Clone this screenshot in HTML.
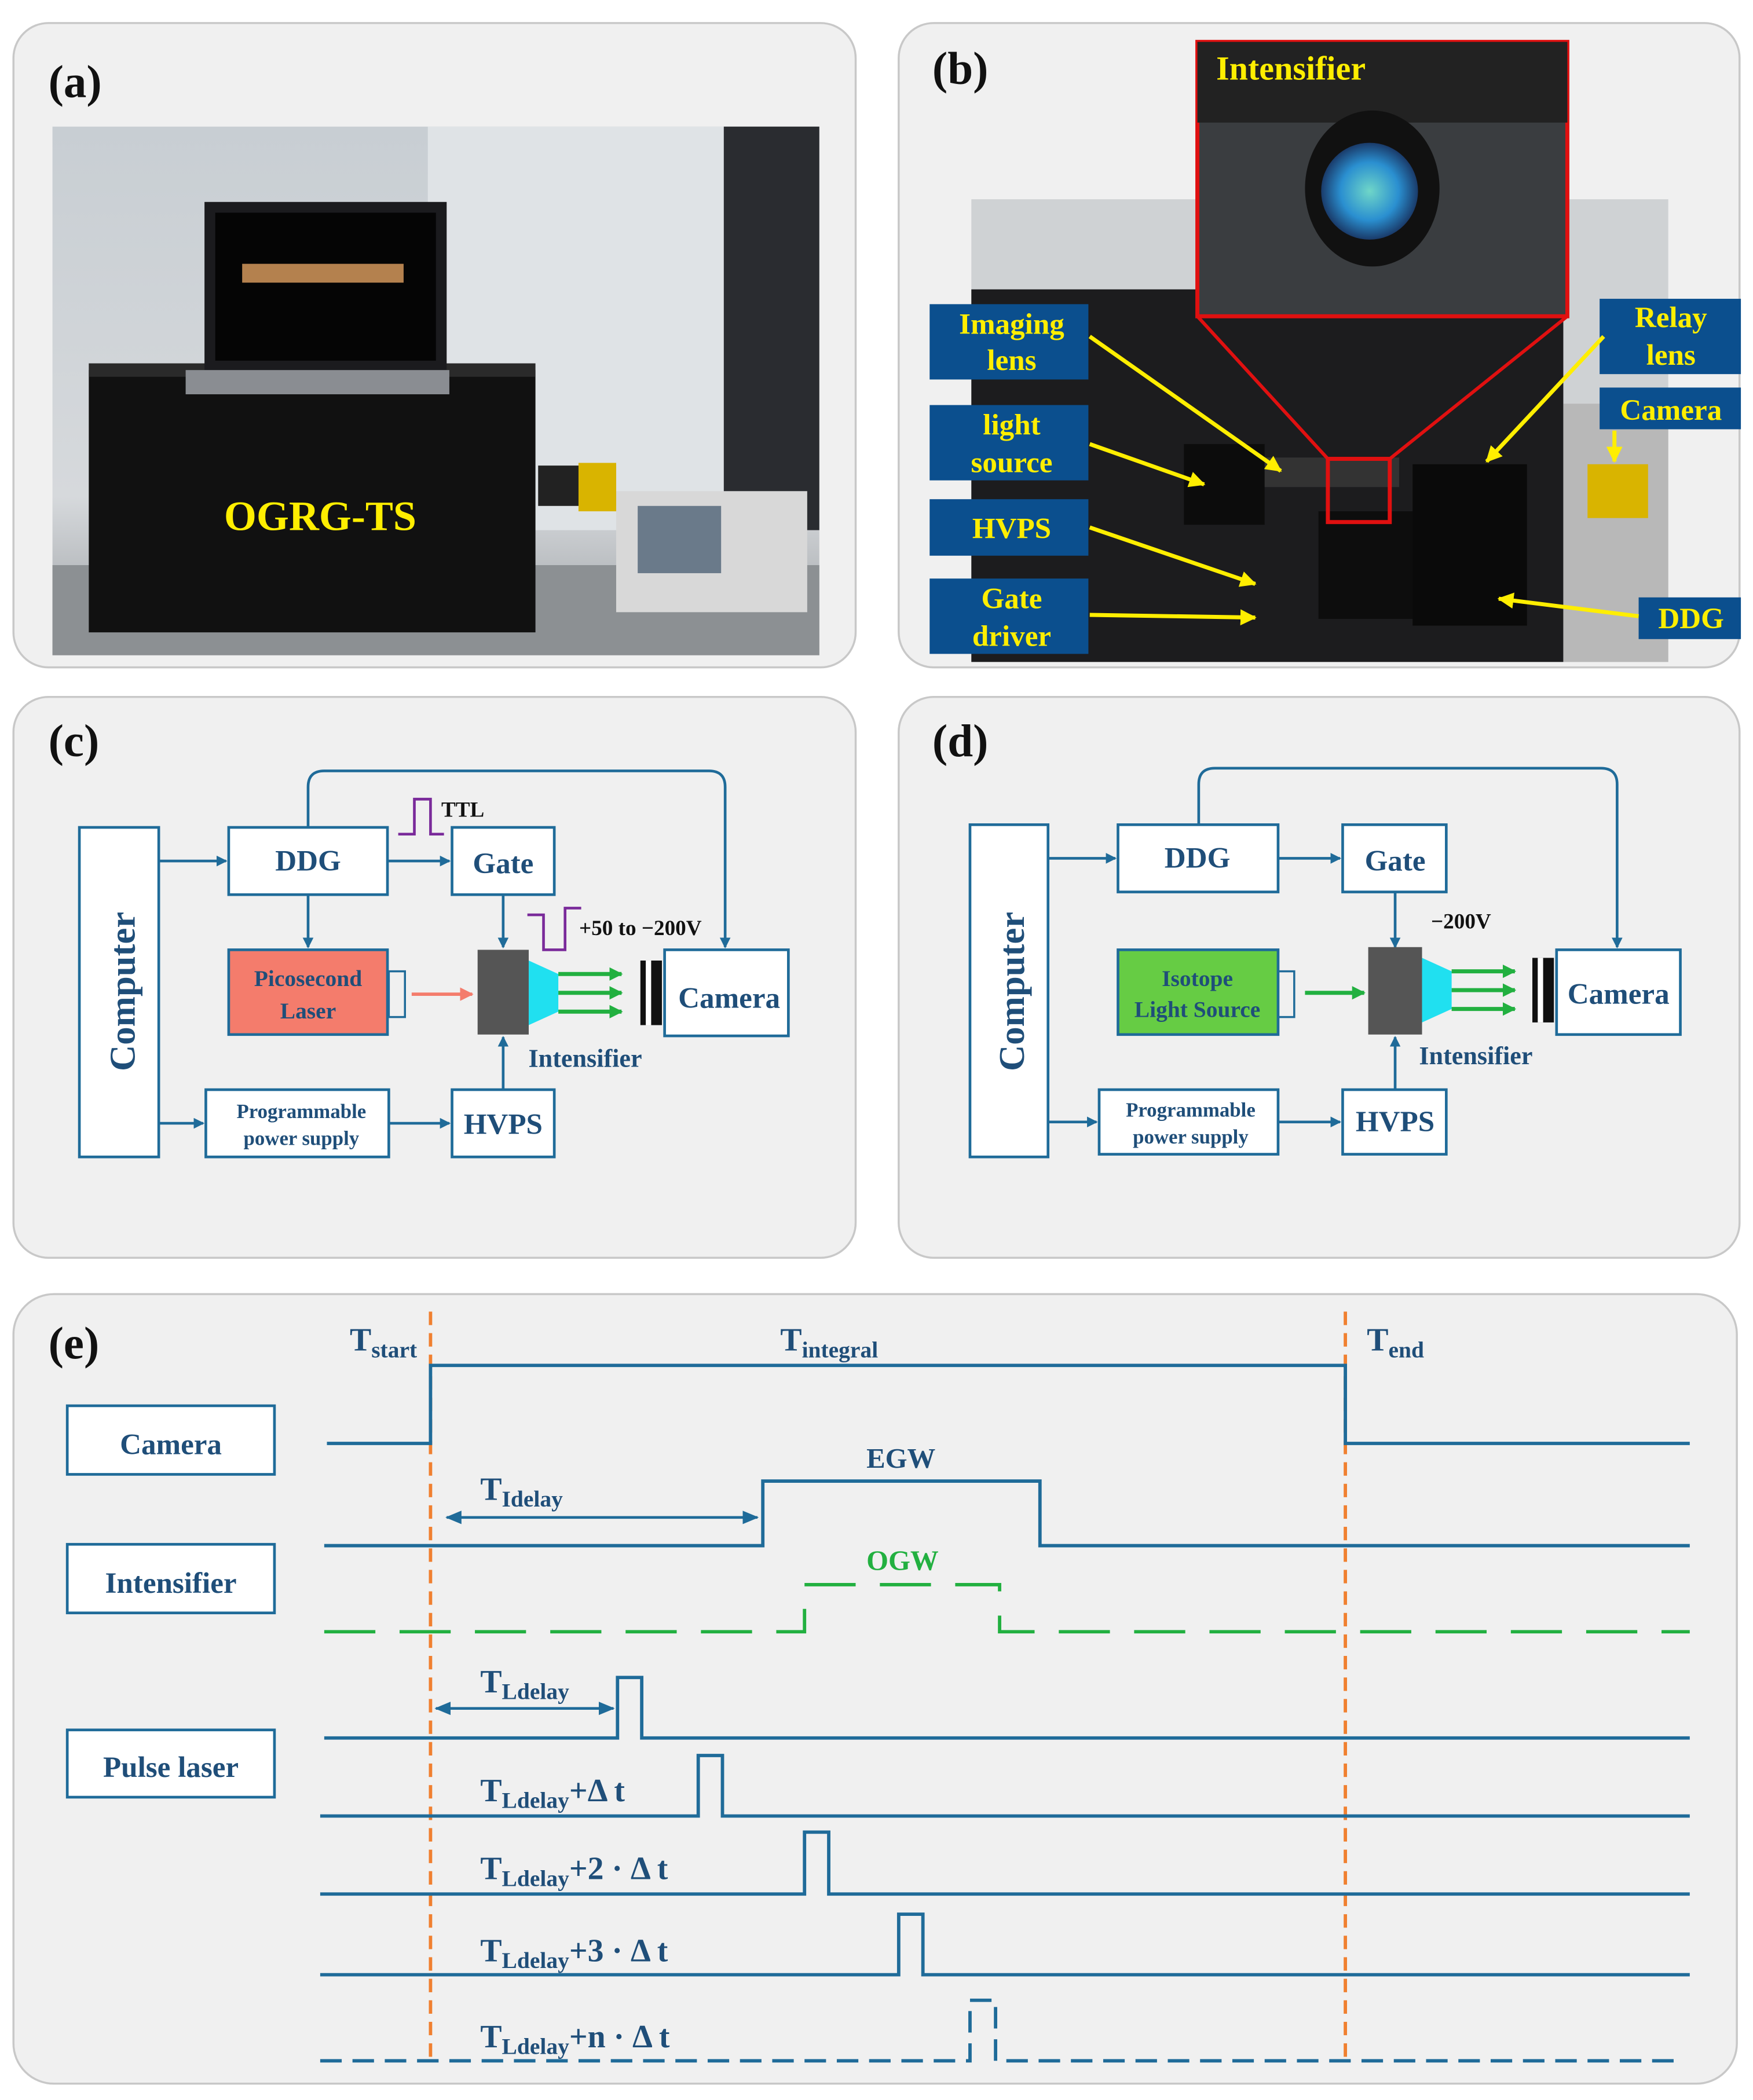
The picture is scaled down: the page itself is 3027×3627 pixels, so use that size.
<!DOCTYPE html>
<html><head><meta charset="utf-8"><style>html,body{margin:0;padding:0;background:#fff}svg{display:block}</style></head><body>
<svg xmlns="http://www.w3.org/2000/svg" width="3027" height="3627" viewBox="0 0 1303 1561" font-family="Liberation Serif, serif">
<defs>
<marker id="ab" markerWidth="8" markerHeight="8" refX="7" refY="4" orient="auto" markerUnits="userSpaceOnUse"><path d="M0,0 L8,4 L0,8 Z" fill="#1f6b99"/></marker>
<marker id="ab2" markerWidth="12" markerHeight="10" refX="11" refY="5" orient="auto-start-reverse" markerUnits="userSpaceOnUse"><path d="M0,0 L12,5 L0,10 Z" fill="#1f6b99"/></marker>
<marker id="ag" markerWidth="10" markerHeight="10" refX="9" refY="5" orient="auto" markerUnits="userSpaceOnUse"><path d="M0,0 L10,5 L0,10 Z" fill="#22b040"/></marker>
<marker id="ar" markerWidth="10" markerHeight="10" refX="9" refY="5" orient="auto" markerUnits="userSpaceOnUse"><path d="M0,0 L10,5 L0,10 Z" fill="#f47c6c"/></marker>
<marker id="ay" markerWidth="12" markerHeight="12" refX="11" refY="6" orient="auto" markerUnits="userSpaceOnUse"><path d="M0,0 L12,6 L0,12 Z" fill="#ffee00"/></marker>
<linearGradient id="wall" x1="0" y1="0" x2="0" y2="1"><stop offset="0" stop-color="#c8ced3"/><stop offset="0.7" stop-color="#d6d9dc"/><stop offset="1" stop-color="#9a9ea2"/></linearGradient>
<radialGradient id="lens"><stop offset="0" stop-color="#6fd6c8"/><stop offset="0.6" stop-color="#2a8fd0"/><stop offset="1" stop-color="#1a3b6a"/></radialGradient>
</defs>
<g fill="#f0f0f0" stroke="#c8c8c8" stroke-width="1.5">
<rect x="10" y="17" width="626" height="479" rx="26"/>
<rect x="668" y="17" width="625" height="479" rx="26"/>
<rect x="10" y="518" width="626" height="417" rx="26"/>
<rect x="668" y="518" width="625" height="417" rx="26"/>
<rect x="10" y="962" width="1281" height="587" rx="30"/>
</g>
<g font-weight="bold" font-size="34" fill="#111">
<text x="36" y="72">(a)</text><text x="693" y="62">(b)</text>
<text x="36" y="562">(c)</text><text x="693" y="562">(d)</text><text x="36" y="1010">(e)</text>
</g>
<!-- (a) photo -->
<rect x="39" y="94" width="570" height="393" fill="url(#wall)"/>
<rect x="318" y="94" width="220" height="300" fill="#dfe3e6"/>
<rect x="538" y="94" width="71" height="300" fill="#2a2c30"/>
<rect x="39" y="420" width="570" height="67" fill="#8c9093"/>
<rect x="66" y="275" width="332" height="195" fill="#111"/>
<rect x="66" y="270" width="332" height="10" fill="#2a2a2a"/>
<rect x="152" y="150" width="180" height="125" fill="#1b1b1e"/>
<rect x="160" y="158" width="164" height="110" fill="#050505"/>
<rect x="180" y="196" width="120" height="14" fill="#e0a060" opacity="0.8"/>
<rect x="138" y="275" width="196" height="18" fill="#8a8d92"/>
<rect x="400" y="346" width="58" height="30" fill="#222"/><rect x="430" y="344" width="28" height="36" fill="#d9b400"/>
<rect x="458" y="365" width="142" height="90" fill="#d8d8d8"/><rect x="474" y="376" width="62" height="50" fill="#6a7a8a"/>
<text x="238" y="394" font-size="31" font-weight="bold" fill="#ffee00" text-anchor="middle">OGRG-TS</text>
<!-- (b) photo -->
<rect x="722" y="148" width="518" height="344" fill="#cfd2d4"/>
<rect x="722" y="215" width="440" height="277" fill="#1c1c1e"/>
<rect x="1162" y="300" width="78" height="192" fill="#b8b8b8"/>
<rect x="880" y="330" width="60" height="60" fill="#0c0c0c"/>
<rect x="940" y="340" width="100" height="22" fill="#333"/>
<rect x="1050" y="345" width="85" height="120" fill="#0a0a0a"/>
<rect x="1180" y="345" width="45" height="40" fill="#d9b400"/>
<rect x="980" y="380" width="70" height="80" fill="#0d0d0d"/>
<rect x="890" y="31" width="275" height="204" fill="#3a3d40" stroke="#e01010" stroke-width="3"/>
<rect x="890" y="31" width="275" height="60" fill="#222"/>
<ellipse cx="1020" cy="140" rx="50" ry="58" fill="#111"/>
<circle cx="1018" cy="142" r="36" fill="url(#lens)"/>
<rect x="987" y="341" width="46" height="47" fill="none" stroke="#e01010" stroke-width="3"/>
<line x1="890" y1="235" x2="987" y2="341" stroke="#e01010" stroke-width="2.5"/>
<line x1="1165" y1="235" x2="1033" y2="341" stroke="#e01010" stroke-width="2.5"/>
<text x="904" y="59" font-size="25" font-weight="bold" fill="#ffee00">Intensifier</text>
<g fill="#0b4f8e"><rect x="691" y="226" width="118" height="56"/><rect x="691" y="301" width="118" height="56"/><rect x="691" y="371" width="118" height="42"/><rect x="691" y="430" width="118" height="56"/><rect x="1189" y="222" width="105" height="56"/><rect x="1189" y="288" width="105" height="31"/><rect x="1218" y="444" width="76" height="31"/></g>
<g font-size="22" font-weight="bold" fill="#ffee00" text-anchor="middle">
<text x="752" y="248">Imaging</text><text x="752" y="275">lens</text>
<text x="752" y="323">light</text><text x="752" y="351">source</text>
<text x="752" y="400">HVPS</text>
<text x="752" y="452">Gate</text><text x="752" y="480">driver</text>
<text x="1242" y="243">Relay</text><text x="1242" y="271">lens</text>
<text x="1242" y="312">Camera</text><text x="1257" y="467">DDG</text>
</g>
<g stroke="#ffee00" stroke-width="3" marker-end="url(#ay)">
<line x1="810" y1="250" x2="952" y2="350"/><line x1="810" y1="330" x2="895" y2="360"/>
<line x1="810" y1="392" x2="933" y2="434"/><line x1="810" y1="457" x2="933" y2="459"/>
<line x1="1192" y1="250" x2="1105" y2="343"/><line x1="1200" y1="320" x2="1200" y2="343"/>
<line x1="1218" y1="458" x2="1114" y2="445"/>
</g>
<!-- (c) -->
<g fill="#fff" stroke="#1f6b99" stroke-width="2">
<rect x="59" y="615" width="59" height="245"/><rect x="170" y="615" width="118" height="50"/><rect x="336" y="615" width="76" height="50"/>
<rect x="170" y="706" width="118" height="63" fill="#f47c6c"/><rect x="494" y="706" width="92" height="64"/>
<rect x="153" y="810" width="136" height="50"/><rect x="336" y="810" width="76" height="50"/>
<rect x="289" y="722" width="12" height="34" fill="none" stroke-width="1.5"/>
<rect x="721" y="613" width="58" height="247"/><rect x="831" y="613" width="119" height="50"/><rect x="998" y="613" width="77" height="50"/>
<rect x="831" y="706" width="119" height="63" fill="#66cc44"/><rect x="1157" y="706" width="92" height="63"/>
<rect x="817" y="810" width="133" height="48"/><rect x="998" y="810" width="77" height="48"/>
<rect x="950" y="722" width="12" height="34" fill="none" stroke-width="1.5"/>
</g>
<g fill="#1f4e79" font-weight="bold" text-anchor="middle">
<text transform="translate(100,737) rotate(-90)" font-size="27">Computer</text>
<text x="229" y="647" font-size="22">DDG</text><text x="374" y="649" font-size="22">Gate</text>
<text x="229" y="733" font-size="17">Picosecond</text><text x="229" y="757" font-size="17">Laser</text>
<text x="542" y="749" font-size="22">Camera</text>
<text x="224" y="831" font-size="15">Programmable</text><text x="224" y="851" font-size="15">power supply</text>
<text x="374" y="843" font-size="22">HVPS</text>
<text x="435" y="793" font-size="19">Intensifier</text>
<text x="476" y="695" font-size="16" fill="#111">+50 to −200V</text>
<text x="344" y="607" font-size="16" fill="#111">TTL</text>
<text transform="translate(761,737) rotate(-90)" font-size="27">Computer</text>
<text x="890" y="645" font-size="22">DDG</text><text x="1037" y="647" font-size="22">Gate</text>
<text x="890" y="733" font-size="17">Isotope</text><text x="890" y="756" font-size="17">Light Source</text>
<text x="1203" y="746" font-size="22">Camera</text>
<text x="885" y="830" font-size="15">Programmable</text><text x="885" y="850" font-size="15">power supply</text>
<text x="1037" y="841" font-size="22">HVPS</text>
<text x="1097" y="791" font-size="19">Intensifier</text>
<text x="1086" y="690" font-size="16" fill="#111">−200V</text>
</g>
<g stroke="#1f6b99" stroke-width="2" fill="none" marker-end="url(#ab)">
<line x1="118" y1="640" x2="168" y2="640"/><line x1="288" y1="640" x2="334" y2="640"/>
<line x1="229" y1="665" x2="229" y2="704"/><line x1="374" y1="665" x2="374" y2="704"/>
<line x1="118" y1="835" x2="151" y2="835"/><line x1="289" y1="835" x2="334" y2="835"/>
<line x1="374" y1="810" x2="374" y2="771"/>
<path d="M229,615 V585 Q229,573 241,573 H527 Q539,573 539,585 V704"/>
<line x1="779" y1="638" x2="829" y2="638"/><line x1="950" y1="638" x2="996" y2="638"/>
<line x1="1037" y1="663" x2="1037" y2="704"/>
<line x1="779" y1="834" x2="815" y2="834"/><line x1="950" y1="834" x2="996" y2="834"/>
<line x1="1037" y1="810" x2="1037" y2="771"/>
<path d="M891,613 V583 Q891,571 903,571 H1190 Q1202,571 1202,583 V704"/>
</g>
<polyline points="296,620 308,620 308,594 320,594 320,620 330,620" fill="none" stroke="#7a2a9a" stroke-width="2"/>
<polyline points="392,680 404,680 404,706 420,706 420,675 432,675" fill="none" stroke="#7a2a9a" stroke-width="2"/>
<rect x="355" y="706" width="38" height="63" fill="#555"/><polygon points="393,714 415,724 415,752 393,762" fill="#20e0f0"/>
<rect x="1017" y="704" width="40" height="65" fill="#555"/><polygon points="1057,712 1079,722 1079,750 1057,760" fill="#20e0f0"/>
<rect x="476" y="714" width="16" height="48" fill="#111"/><rect x="480" y="714" width="4" height="48" fill="#fff"/>
<rect x="1139" y="712" width="16" height="48" fill="#111"/><rect x="1143" y="712" width="4" height="48" fill="#fff"/>
<g stroke="#22b040" stroke-width="3" marker-end="url(#ag)">
<line x1="415" y1="724" x2="462" y2="724"/><line x1="415" y1="738" x2="462" y2="738"/><line x1="415" y1="752" x2="462" y2="752"/>
<line x1="1079" y1="722" x2="1126" y2="722"/><line x1="1079" y1="736" x2="1126" y2="736"/><line x1="1079" y1="750" x2="1126" y2="750"/>
<line x1="970" y1="738" x2="1014" y2="738"/>
</g>
<line x1="306" y1="739" x2="351" y2="739" stroke="#f47c6c" stroke-width="2.5" marker-end="url(#ar)"/>
<!-- (e) -->
<g fill="#fff" stroke="#1f6b99" stroke-width="2"><rect x="50" y="1045" width="154" height="51"/><rect x="50" y="1148" width="154" height="51"/><rect x="50" y="1286" width="154" height="50"/></g>
<g fill="#1f4e79" font-weight="bold" font-size="22" text-anchor="middle"><text x="127" y="1081">Camera</text><text x="127" y="1184">Intensifier</text><text x="127" y="1321">Pulse laser</text></g>
<g stroke="#f08030" stroke-width="2.5" stroke-dasharray="10,6"><line x1="320" y1="975" x2="320" y2="1535"/><line x1="1000" y1="975" x2="1000" y2="1535"/></g>
<g stroke="#1f6b99" stroke-width="2.5" fill="none">
<polyline points="243,1073 320,1073 320,1015 1000,1015 1000,1073 1256,1073"/>
<polyline points="241,1149 567,1149 567,1101 773,1101 773,1149 1256,1149"/>
<polyline points="241,1292 459,1292 459,1247 477,1247 477,1292 1256,1292"/>
<polyline points="238,1350 519,1350 519,1305 537,1305 537,1350 1256,1350"/>
<polyline points="238,1408 598,1408 598,1362 616,1362 616,1408 1256,1408"/>
<polyline points="238,1468 668,1468 668,1423 686,1423 686,1468 1256,1468"/>
<polyline points="238,1532 721,1532 721,1487 740,1487 740,1532 1250,1532" stroke-dasharray="16,8"/>
<line x1="332" y1="1128" x2="563" y2="1128" marker-start="url(#ab2)" marker-end="url(#ab2)" stroke-width="2"/>
<line x1="324" y1="1270" x2="456" y2="1270" marker-start="url(#ab2)" marker-end="url(#ab2)" stroke-width="2"/>
</g>
<polyline points="241,1213 598,1213 598,1178 743,1178 743,1213 1256,1213" fill="none" stroke="#22b040" stroke-width="2.5" stroke-dasharray="38,18"/>
<g fill="#1f4e79" font-weight="bold" font-size="24">
<text x="260" y="1004">T<tspan font-size="17" dy="5">start</tspan></text>
<text x="580" y="1004">T<tspan font-size="17" dy="5">integral</tspan></text>
<text x="1016" y="1004">T<tspan font-size="17" dy="5">end</tspan></text>
<text x="644" y="1091" font-size="21">EGW</text>
<text x="644" y="1167" font-size="21" fill="#22b040">OGW</text>
<text x="357" y="1115">T<tspan font-size="17" dy="5">Idelay</tspan></text>
<text x="357" y="1258">T<tspan font-size="17" dy="5">Ldelay</tspan></text>
<text x="357" y="1339">T<tspan font-size="17" dy="5">Ldelay</tspan><tspan dy="-5">+Δ t</tspan></text>
<text x="357" y="1397">T<tspan font-size="17" dy="5">Ldelay</tspan><tspan dy="-5">+2 · Δ t</tspan></text>
<text x="357" y="1458">T<tspan font-size="17" dy="5">Ldelay</tspan><tspan dy="-5">+3 · Δ t</tspan></text>
<text x="357" y="1522">T<tspan font-size="17" dy="5">Ldelay</tspan><tspan dy="-5">+n · Δ t</tspan></text>
</g>
</svg>
</body></html>
